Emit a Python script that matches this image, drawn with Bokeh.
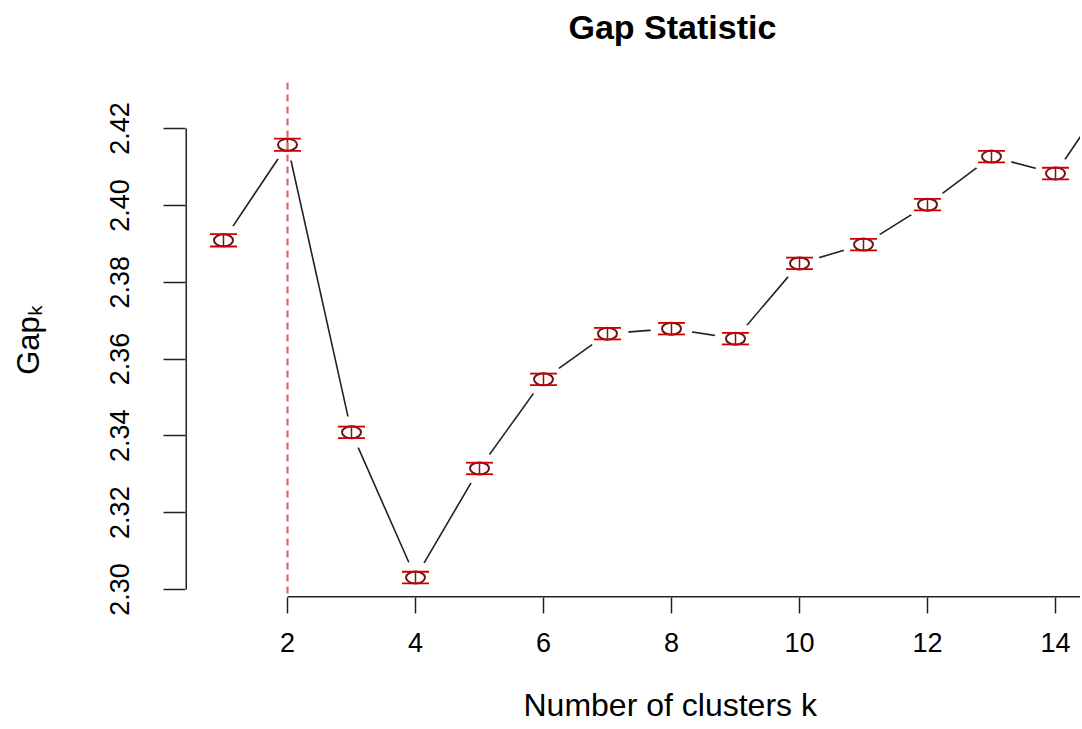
from bokeh.plotting import figure
from bokeh.models import (ColumnDataSource, Span, FixedTicker, Title, LinearAxis,
                          PrintfTickFormatter, Range1d)
from bokeh.embed import file_html
from bokeh.resources import INLINE

# ---- data ----
k = [1, 2, 3, 4, 5, 6, 7, 8, 9, 10, 11, 12, 13, 14, 15]
gap = [2.3909, 2.4158, 2.3409, 2.3031, 2.3315, 2.3547, 2.3666, 2.3679,
       2.3653, 2.3849, 2.3898, 2.4002, 2.4127, 2.4083, 2.4330]
se = [0.0016, 0.0016, 0.0015, 0.0015, 0.0015, 0.0015, 0.0015, 0.0015,
      0.0015, 0.0015, 0.0015, 0.0015, 0.0015, 0.0015, 0.0015]
x_ticks = [2, 4, 6, 8, 10, 12, 14]
y_ticks = [2.30, 2.32, 2.34, 2.36, 2.38, 2.40, 2.42]
k_opt = 2
title_text = "Gap Statistic"
x_label = "Number of clusters k"
y_label = "Gap\u2096"

FONT = "Liberation Sans"
INK = "#222222"
RED = "#cd0000"

xr = Range1d(0.40625, 14.3906)
yr = Range1d(2.2979, 2.4320)

p = figure(width=1080, height=727, output_backend="svg", toolbar_location=None,
           x_range=xr, y_range=yr,
           min_border_left=185, min_border_right=0, min_border_top=82,
           min_border_bottom=130)
p.outline_line_color = None
p.xgrid.grid_line_color = None
p.ygrid.grid_line_color = None
p.background_fill_color = "white"

xa = p.below[0]
ya = p.left[0]


def spacer(size):
    # an invisible axis used only to reserve vertical space
    return LinearAxis(ticker=FixedTicker(ticks=[x_ticks[0]]),
                      formatter=PrintfTickFormatter(format=""),
                      major_tick_out=size, major_tick_in=0,
                      axis_line_color=None, major_tick_line_color=None,
                      minor_tick_line_color=None, major_label_standoff=0,
                      major_label_text_font_size="0px")


# title (pushed away from the frame by a spacer)
p.title.text = title_text
p.title.align = "left"
p.title.offset = 383
p.title.text_font = FONT
p.title.text_font_size = "34px"
p.title.text_font_style = "bold"
p.title.text_color = "black"
p.add_layout(spacer(32), "above")

# x axis
xa.ticker = FixedTicker(ticks=x_ticks)
xa.axis_line_color = None
xa.major_tick_out = 16
xa.major_tick_in = 0
xa.minor_tick_line_color = None
xa.major_tick_line_color = INK
xa.major_tick_line_width = 1.5
xa.major_label_text_font = FONT
xa.major_label_text_font_size = "27px"
xa.major_label_text_color = "black"
xa.major_label_standoff = 19

# spacer then x label (as a below title, to centre it like R does)
p.add_layout(spacer(25), "below")
p.add_layout(Title(text=x_label, align="left", offset=338,
                   text_font=FONT, text_font_size="32px",
                   text_font_style="normal", text_color="black"), "below")

# y axis
ya.ticker = FixedTicker(ticks=y_ticks)
ya.formatter = PrintfTickFormatter(format="%.2f")
ya.axis_line_color = None
ya.major_tick_out = 22
ya.major_tick_in = 0
ya.minor_tick_line_color = None
ya.major_tick_line_color = INK
ya.major_tick_line_width = 1.5
ya.major_label_orientation = "vertical"
ya.major_label_text_font = FONT
ya.major_label_text_font_size = "27px"
ya.major_label_text_color = "black"
ya.major_label_standoff = 34
ya.axis_label = y_label
ya.axis_label_text_font = FONT
ya.axis_label_text_font_size = "31px"
ya.axis_label_text_font_style = "normal"
ya.axis_label_text_color = "black"
ya.axis_label_standoff = 62

# R-style axis lines (only across the tick span)
p.segment(x0=[x_ticks[0]], x1=[xr.end], y0=[yr.start], y1=[yr.start],
          line_color=INK, line_width=3)
p.segment(x0=[xr.start], x1=[xr.start], y0=[y_ticks[0]], y1=[y_ticks[-1]],
          line_color=INK, line_width=3)

src = ColumnDataSource(dict(k=k, gap=gap,
                            lo=[g - s for g, s in zip(gap, se)],
                            up=[g + s for g, s in zip(gap, se)]))

# line with gaps around the points (type = "b")
p.line("k", "gap", source=src, line_color=INK, line_width=1.6)
p.ellipse("k", "gap", source=src, width=42, height=32,
          width_units="screen", height_units="screen",
          fill_color="white", line_color=None)

# points
p.ellipse("k", "gap", source=src, width=19, height=12,
          width_units="screen", height_units="screen",
          fill_color=None, line_color="#6e1414", line_width=2)

# error bars
p.segment(x0="k", x1="k", y0="lo", y1="up", source=src,
          line_color="#8a1010", line_width=1.5)
p.scatter("k", "up", source=src, marker="dash", size=27,
          line_color=RED, line_width=1.8)
p.scatter("k", "lo", source=src, marker="dash", size=27,
          line_color=RED, line_width=1.8)

# optimum k
p.add_layout(Span(location=k_opt, dimension="height", line_color="#e06a6a",
                  line_dash="7 5", line_width=2.2))

open("out.html", "w").write(file_html(p, INLINE))
